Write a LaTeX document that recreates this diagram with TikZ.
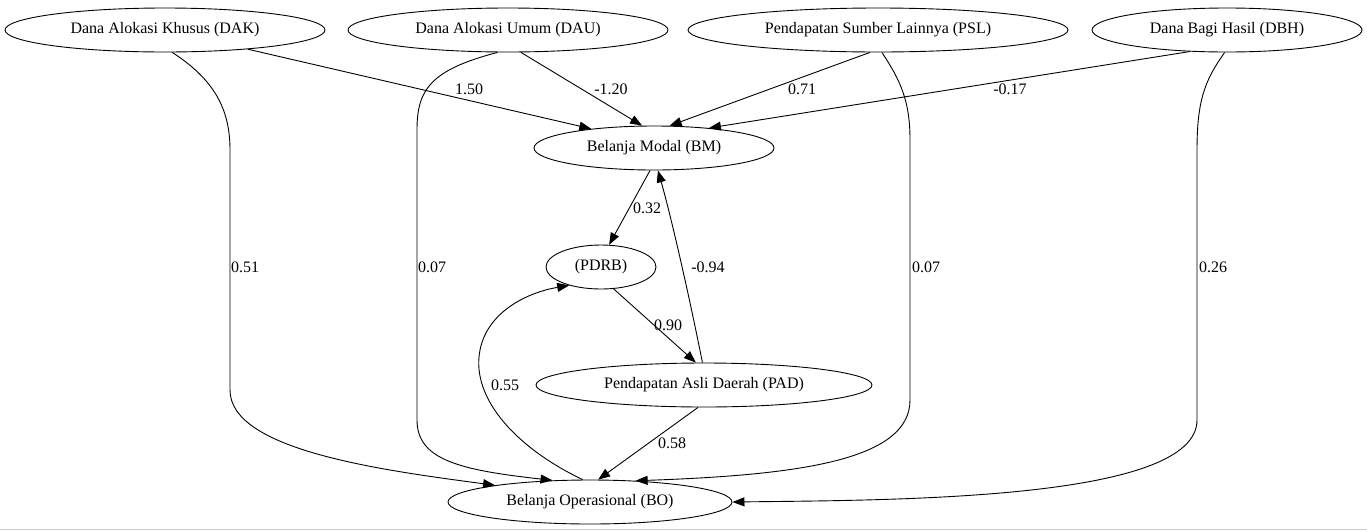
\documentclass[tikz,border=0pt]{standalone}
\usepackage{fontspec}
\setmainfont{Liberation Serif}
\usetikzlibrary{shapes.geometric,arrows.meta}
\begin{document}
\begin{tikzpicture}[x=1pt,y=-1pt,
  nd/.style={ellipse,draw,line width=0.9pt,minimum height=44pt,inner sep=0pt,font=\fontsize{16}{18}\selectfont},
  e/.style={draw,line width=0.9pt,-{Triangle[length=12pt,width=9pt]}},
  lb/.style={font=\fontsize{16}{18}\selectfont}]
\useasboundingbox (0,0) rectangle (1367,531);
\draw[gray!40,line width=1pt] (0,529) -- (1367,529);
\node[nd,minimum width=320pt] (dak) at (165,30) {Dana Alokasi Khusus (DAK)};
\node[nd,minimum width=320pt] (dau) at (508,30) {Dana Alokasi Umum (DAU)};
\node[nd,minimum width=380pt] (psl) at (878,30) {Pendapatan Sumber Lainnya (PSL)};
\node[nd,minimum width=270pt] (dbh) at (1227,30) {Dana Bagi Hasil (DBH)};
\node[nd,minimum width=240pt] (bm) at (654,148) {Belanja Modal (BM)};
\node[nd,minimum width=110pt] (pdrb) at (601,267) {(PDRB)};
\node[nd,minimum width=336pt] (pad) at (704,385) {Pendapatan Asli Daerah (PAD)};
\node[nd,minimum width=284pt] (bo) at (590,502) {Belanja Operasional (BO)};
\path[e] (dak) -- (bm.163);
\node[lb] at (469,89) {1.50};
\path[e] (dau.-60) -- (bm.118);
\node[lb] at (611,89) {-1.20};
\path[e] (psl.-110) -- (bm.55);
\node[lb] at (802,89) {0.71};
\path[e] (dbh.-150) -- (bm.20);
\node[lb] at (1010,89) {-0.17};
\path[e] (bm.-100) -- (pdrb.70);
\node[lb] at (647,208) {0.32};
\path[e] (pdrb.-60) -- (pad.110);
\node[lb] at (668,325) {0.90};
\path[e] (pad.94) .. controls (690,300) and (672,220) .. (bm.-80);
\node[lb] at (708,267) {-0.94};
\path[e] (pad.-105) -- (bo.70);
\node[lb] at (672,443) {0.58};
\path[e] (bo.108) .. controls (520,450) and (470,400) .. (480,350) .. controls (488,310) and (530,292) .. (pdrb.-150);
\node[lb] at (505,385) {0.55};
\path[e] (dak.-72) .. controls (215,80) and (230,110) .. (230,150) -- (230,390) .. controls (230,450) and (380,470) .. (bo.170);
\node[lb] at (245,267) {0.51};
\path[e] (dau.-115) .. controls (430,70) and (417,90) .. (417,130) -- (417,420) .. controls (417,460) and (460,470) .. (bo.150);
\node[lb] at (432,267) {0.07};
\path[e] (psl.-80) .. controls (900,80) and (910,100) .. (910,140) -- (910,400) .. controls (910,460) and (800,475) .. (bo.25);
\node[lb] at (926,267) {0.07};
\path[e] (dbh.-96) .. controls (1205,80) and (1197,100) .. (1197,150) -- (1197,420) .. controls (1197,500) and (900,500) .. (bo.east);
\node[lb] at (1213,267) {0.26};
\end{tikzpicture}
\end{document}
